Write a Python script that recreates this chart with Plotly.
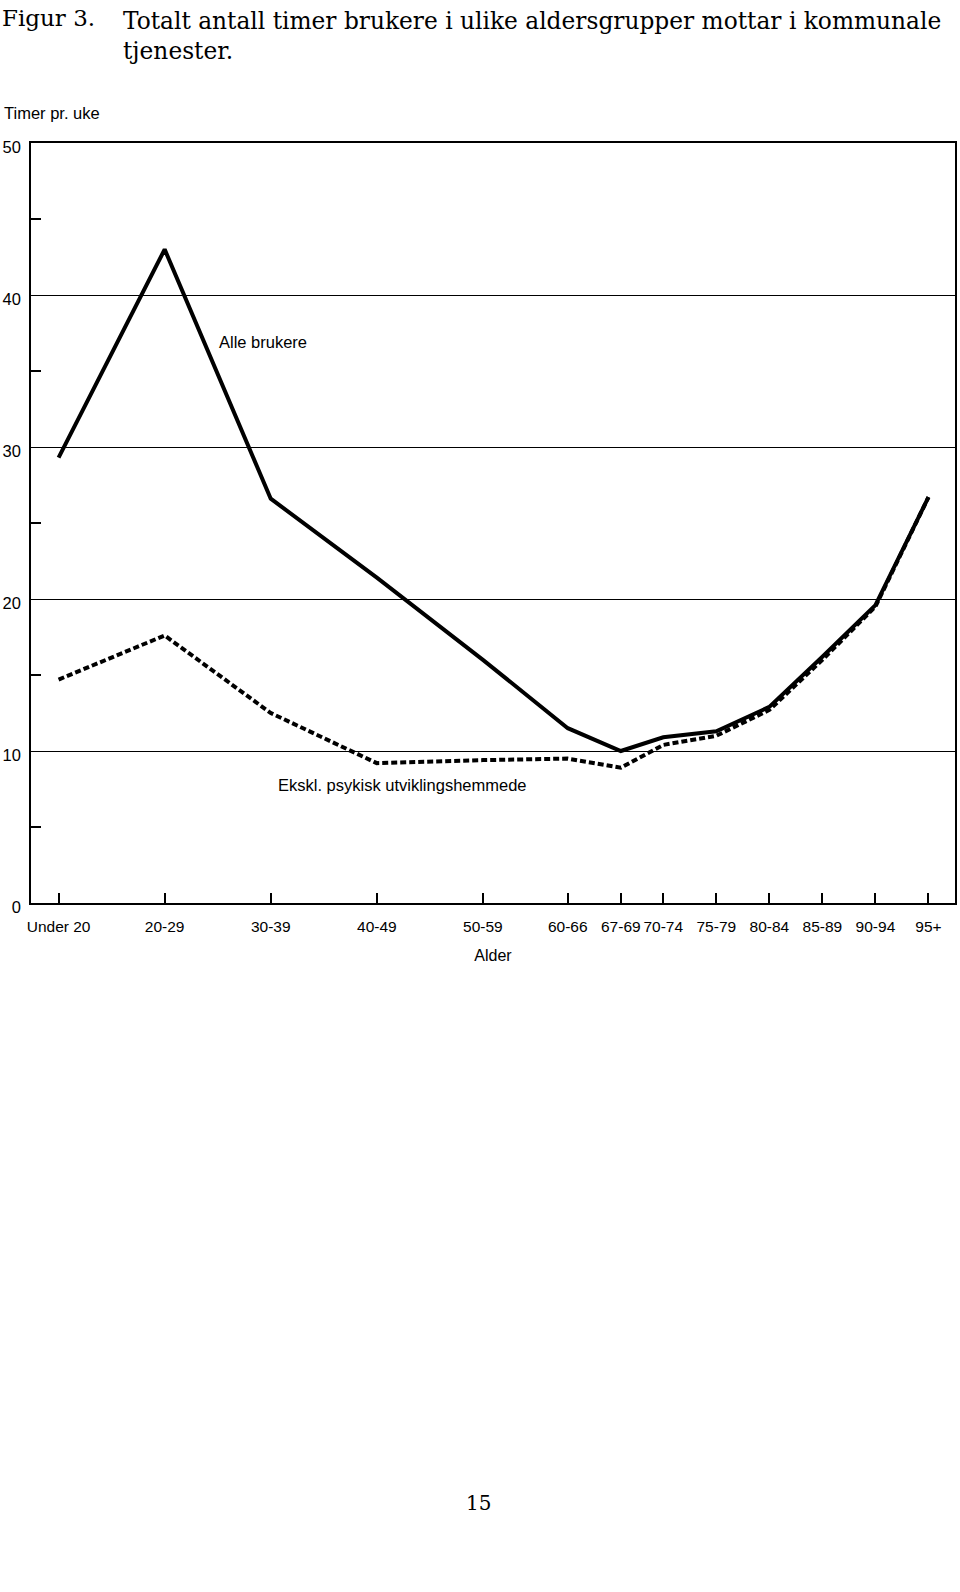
import plotly.graph_objects as go

# Data
age_labels = ["Under 20", "20-29", "30-39", "40-49", "50-59", "60-66", "67-69",
              "70-74", "75-79", "80-84", "85-89", "90-94", "95+"]
age_mid = [15, 25, 35, 45, 55, 63, 68, 72, 77, 82, 87, 92, 97]
alle_brukere = [29.3, 43.0, 26.6, 21.4, 16.0, 11.5, 10.0, 10.9, 11.3, 12.9, 16.2, 19.6, 26.7]
ekskl_psyk = [14.7, 17.6, 12.5, 9.2, 9.4, 9.5, 8.9, 10.4, 11.0, 12.7, 16.0, 19.5, 26.7]

W, H = 960, 1592
L, R, T, B = 31, 955, 143, 903

def px(x):
    return (x - L) / (R - L)

def py(y):
    return (B - y) / (B - T)

fig = go.Figure()
fig.add_trace(go.Scatter(x=age_mid, y=ekskl_psyk, mode="lines",
                         line=dict(color="black", width=4, dash="6px,3px"),
                         showlegend=False))
fig.add_trace(go.Scatter(x=age_mid, y=alle_brukere, mode="lines",
                         line=dict(color="black", width=4),
                         showlegend=False))

sans = "Liberation Sans, Arial, sans-serif"
serif = "DejaVu Serif, serif"

fig.update_layout(
    width=W, height=H,
    margin=dict(l=L, r=W - R, t=T, b=H - B, pad=0, autoexpand=False),
    paper_bgcolor="white", plot_bgcolor="white",
    showlegend=False,
    xaxis=dict(
        range=[12.4, 99.5], tickmode="array", tickvals=age_mid, ticktext=age_labels,
        tickangle=0, ticklabelstandoff=9, automargin=False,
        ticks="inside", ticklen=10, tickwidth=1.5, tickcolor="black",
        showgrid=False, zeroline=False,
        showline=True, linecolor="black", linewidth=1.5, mirror=True,
        tickfont=dict(family=sans, size=15.5, color="black"),
        title=dict(text="Alder", font=dict(family=sans, size=16, color="black"), standoff=15),
    ),
    yaxis=dict(
        range=[0, 50], tickmode="array", tickvals=[0, 10, 20, 30, 40, 50],
        ticktext=["0", "10", "20", "30", "40", "50"],
        ticklabelstandoff=5, ticklabelshift=4, automargin=False,
        ticks="", showgrid=True, gridcolor="black", gridwidth=1.3,
        zeroline=False,
        showline=True, linecolor="black", linewidth=1.5, mirror=True,
        tickfont=dict(family=sans, size=16.5, color="black"),
        minor=dict(tickvals=[5, 15, 25, 35, 45], ticks="inside", ticklen=10,
                   tickwidth=1.5, tickcolor="black", showgrid=False),
    ),
)

annotations = [
    dict(text="Figur 3.", x=px(0), y=py(33), xanchor="left", yanchor="bottom",
         font=dict(family=serif, size=23, color="black")),
    dict(text="Totalt antall timer brukere i ulike aldersgrupper mottar i kommunale<br>tjenester.",
         x=px(121), y=py(5), xanchor="left", yanchor="top", align="left",
         font=dict(family=serif, size=23.3, color="black")),
    dict(text="Timer pr. uke", x=px(2), y=py(113), xanchor="left", yanchor="middle",
         font=dict(family=sans, size=16.5, color="black")),
    dict(text="Alle brukere", x=px(217), y=py(342), xanchor="left", yanchor="middle",
         font=dict(family=sans, size=16.5, color="black")),
    dict(text="Ekskl. psykisk utviklingshemmede", x=px(276), y=py(785),
         xanchor="left", yanchor="middle",
         font=dict(family=sans, size=16.5, color="black")),
    dict(text="15", x=px(478), y=py(1503), xanchor="center", yanchor="middle",
         font=dict(family=serif, size=20, color="black")),
]
for a in annotations:
    a.update(xref="paper", yref="paper", showarrow=False)
fig.update_layout(annotations=annotations)

fig.write_html("out.html")
